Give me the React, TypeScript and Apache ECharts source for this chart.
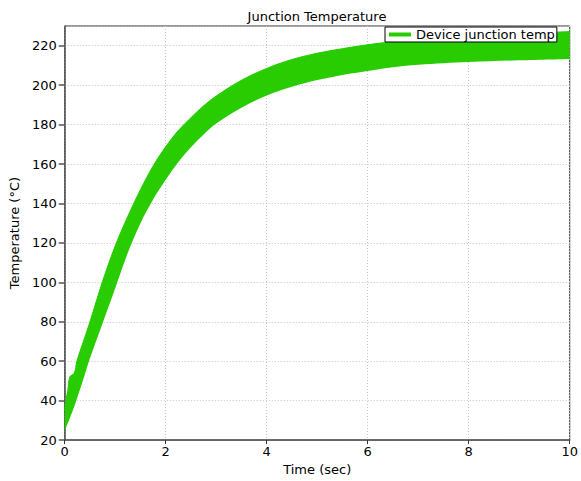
import React, { useEffect, useRef } from "react";
import * as echarts from "echarts";

const seriesName = "Device junction temp";
const xTicks = [0, 2, 4, 6, 8, 10];
const yTicks = [20, 40, 60, 80, 100, 120, 140, 160, 180, 200, 220];

// sample times (sec) at which the band envelopes were read
const time = [0, 0.03, 0.06, 0.1, 0.19, 0.24, 0.37, 0.5, 0.75, 1.0, 1.25, 1.5, 1.75, 2.0, 2.25, 2.5, 2.75, 3.0, 3.5, 4.0, 4.5, 5.0, 5.5, 6.0, 6.5, 7.0, 7.5, 8.0, 9.0, 10];
// upper envelope of the oscillating junction temperature (°C)
const upperTemp = [35, 41, 45, 52, 54, 60, 70, 80, 100.5, 118.5, 133.5, 147, 159, 168.8, 177, 183.5, 189.5, 194.5, 202.5, 208.5, 213, 216.2, 218.5, 220.5, 222, 223, 224, 224.8, 226, 227.2];
// lower envelope (°C)
const lowerTemp = [24.5, 26.5, 28.5, 31, 37, 40.8, 51, 61.5, 79.3, 97, 115, 130, 142, 152, 161, 168.5, 175, 180.5, 188.5, 194.7, 199.2, 202.6, 205.2, 207.2, 209.1, 210.3, 211.1, 211.7, 212.6, 213.3];

const GREEN = "#28cc00";
const FONT = "DejaVu Sans";

export default function App() {
  const ref = useRef<HTMLDivElement>(null);
  useEffect(() => {
    if (!ref.current) return;
    const chart = echarts.init(ref.current, null, { renderer: "svg" });
    const gridLine = { show: true, lineStyle: { color: "#c4c4c4", type: [1, 2] as any, width: 1 } };
    // value first so that the stack runs along y
    const lowerData = time.map((t, i) => [lowerTemp[i], t]);
    const bandData = time.map((t, i) => [upperTemp[i] - lowerTemp[i], t]);
    chart.setOption({
      animation: false,
      backgroundColor: "#ffffff",
      textStyle: { fontFamily: FONT },
      grid: {
        left: 61,
        right: 8,
        top: 26,
        bottom: 35,
        show: true,
        borderColor: "#333333",
        borderWidth: 1,
        backgroundColor: "transparent",
      },
      graphic: [
        {
          type: "text",
          x: 317,
          y: 16,
          style: {
            text: "Junction Temperature",
            fontFamily: FONT,
            fontSize: 13,
            fill: "#000",
            textAlign: "center",
            textVerticalAlign: "middle",
          },
        },
      ],
      legend: {
        show: true,
        left: 385,
        top: 27,
        orient: "horizontal",
        backgroundColor: "#ffffff",
        borderColor: "#000000",
        borderWidth: 1,
        borderRadius: 0,
        padding: [1, 2, 1, 4],
        itemWidth: 22,
        itemHeight: 4,
        itemGap: 5,
        textStyle: { fontFamily: FONT, fontSize: 13, color: "#000" },
        data: [{ name: seriesName, icon: "rect", itemStyle: { color: GREEN } }],
      },
      xAxis: {
        type: "value",
        min: xTicks[0],
        max: xTicks[xTicks.length - 1],
        interval: 2,
        name: "Time (sec)",
        nameLocation: "middle",
        nameGap: 21,
        nameTextStyle: { fontFamily: FONT, fontSize: 13, color: "#000" },
        axisLine: { show: true, onZero: false, lineStyle: { color: "#555", width: 1.5 } },
        axisTick: { show: true, length: 4, lineStyle: { color: "#333" } },
        axisLabel: { fontFamily: FONT, fontSize: 13, color: "#000", margin: 5 },
        splitLine: gridLine,
      },
      yAxis: {
        type: "value",
        min: yTicks[0],
        max: 230,
        interval: 20,
        name: "Temperature (°C)",
        nameLocation: "middle",
        nameGap: 40,
        nameTextStyle: { fontFamily: FONT, fontSize: 13, color: "#000" },
        axisLine: { show: true, onZero: false, lineStyle: { color: "#555", width: 1.5 } },
        axisTick: { show: true, length: 6, lineStyle: { color: "#555", width: 1.5 } },
        axisLabel: {
          fontFamily: FONT,
          fontSize: 13,
          color: "#000",
          margin: 8,
          showMaxLabel: false,
          formatter: (v: number) => (yTicks.indexOf(v) >= 0 ? String(v) : ""),
        },
        splitLine: gridLine,
      },
      series: [
        {
          name: "lower",
          type: "line",
          stack: "band",
          data: lowerData,
          encode: { x: 1, y: 0 },
          symbol: "none",
          smooth: 0.35,
          silent: true,
          lineStyle: { opacity: 0, width: 0 },
          itemStyle: { color: GREEN },
          z: 2,
        },
        {
          name: seriesName,
          type: "line",
          stack: "band",
          data: bandData,
          encode: { x: 1, y: 0 },
          symbol: "none",
          smooth: 0.35,
          silent: true,
          itemStyle: { color: GREEN },
          lineStyle: { color: GREEN, width: 1 },
          areaStyle: { color: GREEN, opacity: 1 },
          z: 2,
        },
      ],
    });
    return () => chart.dispose();
  }, []);
  return (
    <div
      ref={ref}
      style={{ position: "fixed", left: 0, top: 0, width: 581, height: 481, background: "#fff" }}
    />
  );
}
